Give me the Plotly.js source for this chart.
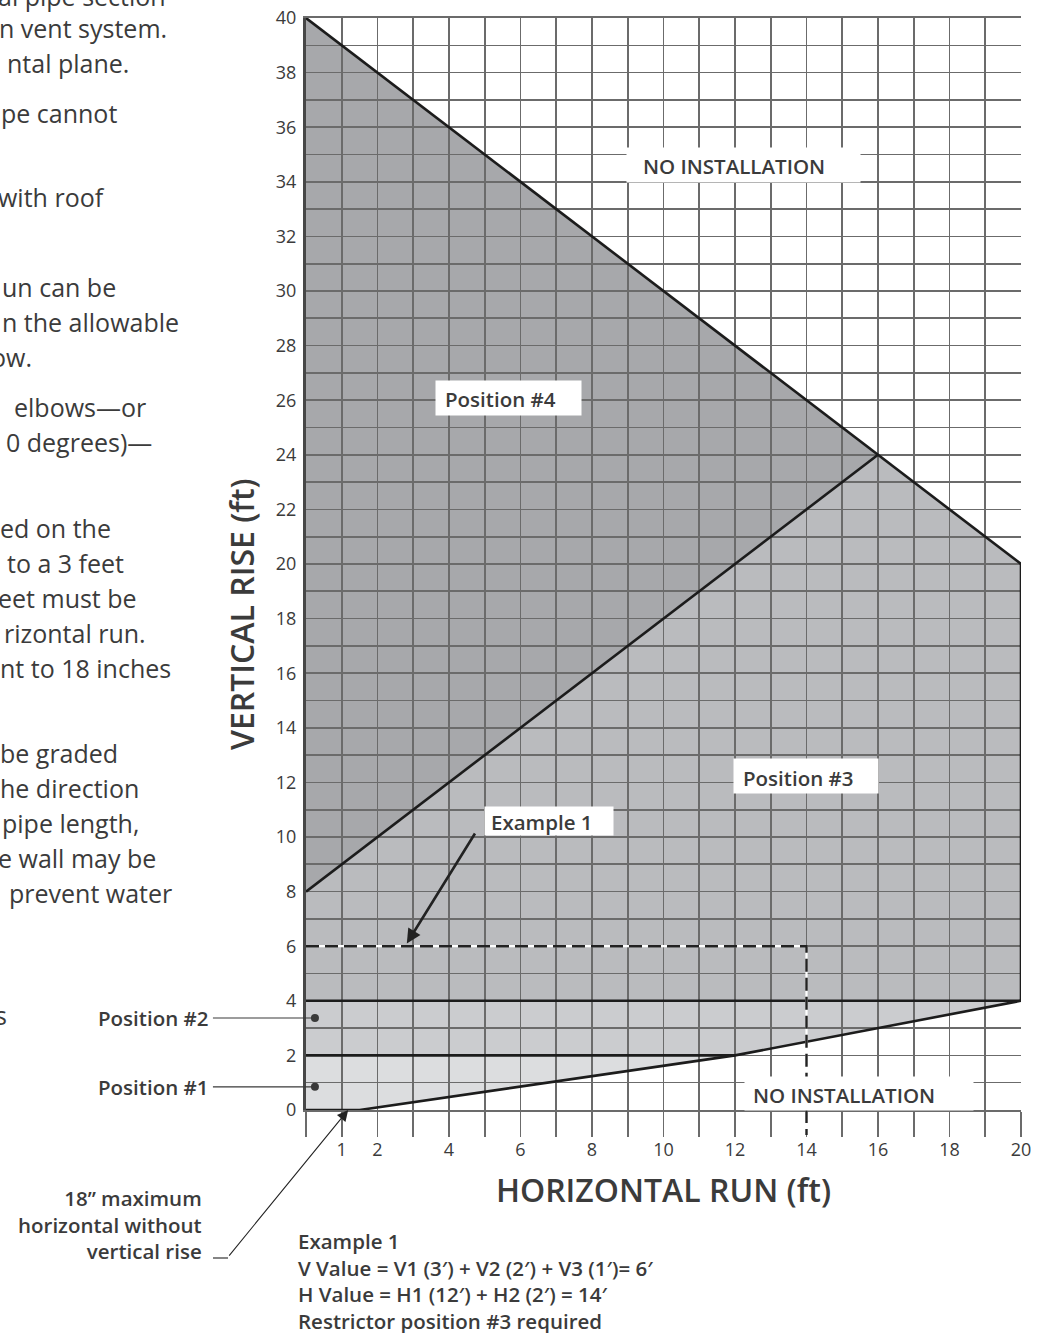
<!DOCTYPE html>
<html>
<head>
<meta charset="utf-8">
<script src="https://cdn.plot.ly/plotly-3.0.1.min.js"></script>
<style>
html,body{margin:0;padding:0;background:#fff;}
#chart{width:1037px;height:1333px;}
</style>
</head>
<body>
<div id="chart"></div>
<script>
// ---------- chart data ----------
const xTickVals = [1, 2, 4, 6, 8, 10, 12, 14, 16, 18, 20];
const xTickText = ['1', '2', '4', '6', '8', '10', '12', '14', '16', '18', '20'];
const yTickVals = [0, 2, 4, 6, 8, 10, 12, 14, 16, 18, 20, 22, 24, 26, 28, 30, 32, 34, 36, 38, 40];
const yTickText = ['0', '2', '4', '6', '8', '10', '12', '14', '16', '18', '20', '22', '24', '26', '28', '30', '32', '34', '36', '38', '40'];

// restrictor position regions (horizontal run ft, vertical rise ft)
const pos4X = [0, 16, 0];
const pos4Y = [40, 24, 8];
const pos3X = [0, 16, 20, 20, 0];
const pos3Y = [8, 24, 20, 4, 4];
const pos2X = [0, 12, 20, 0];
const pos2Y = [2, 2, 4, 4];
const pos1X = [0, 1.5, 12, 0];
const pos1Y = [0, 0, 2, 2];

// boundary lines
const upperLimitX = [0, 20];
const upperLimitY = [40, 20];
const pos4LimitX = [0, 16];
const pos4LimitY = [8, 24];
const rightLimitX = [20, 20];
const rightLimitY = [4, 20];
const pos3BaseX = [0, 20];
const pos3BaseY = [4, 4];
const pos2BaseX = [0, 12];
const pos2BaseY = [2, 2];
const lowerLimitX = [0, 1.5, 12, 20];
const lowerLimitY = [0, 0, 2, 4];

// Example 1 : V = 6 ft, H = 14 ft
const example1X = [0, 14, 14];
const example1Y = [6, 6, 0];
const example1H = 14;

// position markers
const markerX = [0.25, 0.25];
const markerY = [3.37, 0.85];
const markerLabels = ['Position #2', 'Position #1'];

// in-plot labels
const regionLabels = ['NO INSTALLATION', 'NO INSTALLATION', 'Position #4', 'Position #3', 'Example 1'];
const regionBoxX = [12.24, 15.47, 5.66, 13.99, 6.80];
const regionBoxY = [34.62, 0.60, 26.08, 12.23, 10.59];
const regionBoxW = [233, 228, 145, 144, 128];
const regionBoxH = [34, 33, 34, 34, 28];
const regionTextX = [9.38, 12.45, 3.82, 12.18, 5.11];
const regionTextY = [34.58, 0.56, 26.04, 12.17, 10.56];

const noteText = '18\u201D maximum<br>horizontal without<br>vertical rise';
const exampleText = 'Example 1<br>V Value = V1 (3\u2032) + V2 (2\u2032) + V3 (1\u2032)= 6\u2032<br>H Value = H1 (12\u2032) + H2 (2\u2032) = 14\u2032<br>Restrictor position #3 required';

// partial body text visible at the left edge (text, right edge px, centre y px)
const bodyLines = ['al pipe section', 'n vent system.', 'ntal plane.', 'pe cannot', 'with roof',
  'un can be', 'n the allowable', 'ow.', 'elbows\u2014or', '0 degrees)\u2014',
  'ed on the', 'to a 3 feet', 'eet must be', 'rizontal run.', 'nt to 18 inches',
  'be graded', 'he direction', 'pipe length,', 'e wall may be', 'prevent water', 's'];
const bodyRight = [167, 168, 130, 118, 106, 117, 180, 33, 147, 153, 112, 125, 138, 147, 172, 119, 140, 140, 157, 173, 8];
const bodyY = [-4, 28, 63, 113, 197, 287, 322, 357, 407, 442, 528, 563, 598, 633, 668, 753, 788, 823, 858, 893, 1015];

// ---------- layout geometry ----------
const W = 1037, H = 1333;
const M = {l: 306, r: 16, t: 18, b: 223};
const PW = W - M.l - M.r, PH = H - M.t - M.b;
const px2x = p => (p - M.l) / PW;
const py2y = p => (M.t + PH - p) / PH;

const FONT = '"Open Sans", "Noto Sans", sans-serif';
const TXT = '#3b3b3b';
const GRID = '#6b6b6b';
const EDGE = '#1c1c1c';

function polyPath(xs, ys) {
  return xs.map((x, i) => (i ? 'L' : 'M') + x + ',' + ys[i]).join(' ') + ' Z';
}
function fillShape(xs, ys, color) {
  return {type: 'path', xref: 'x', yref: 'y', layer: 'below', path: polyPath(xs, ys),
          fillcolor: color, line: {width: 0}};
}
function edge(xs, ys, name) {
  return {x: xs, y: ys, mode: 'lines', name: name, hoverinfo: 'skip',
          line: {color: EDGE, width: 2.6}};
}

const traces = [
  edge(upperLimitX, upperLimitY, 'upper limit'),
  edge(pos4LimitX, pos4LimitY, 'position 4 limit'),
  edge(rightLimitX, rightLimitY, 'right limit'),
  edge(pos3BaseX, pos3BaseY, 'position 3 base'),
  edge(pos2BaseX, pos2BaseY, 'position 2 base'),
  edge(lowerLimitX, lowerLimitY, 'lower limit'),
  {x: example1X, y: example1Y, mode: 'lines', hoverinfo: 'skip', line: {color: '#ffffff', width: 2.2}},
  {x: example1X, y: example1Y, mode: 'lines', hoverinfo: 'skip', line: {color: '#222222', width: 2.4, dash: '13px,6px'}},
  {x: markerX, y: markerY, mode: 'markers', hoverinfo: 'skip', marker: {color: '#3a3a3a', size: 8}}
];

const shapes = [
  fillShape(pos4X, pos4Y, '#a7a8ab'),
  fillShape(pos3X, pos3Y, '#babbbe'),
  fillShape(pos2X, pos2Y, '#cbcccf'),
  fillShape(pos1X, pos1Y, '#dcdddf'),
  // dashed Example 1 line continuing over the tick below the axis
  {type: 'line', xref: 'x', yref: 'paper', x0: example1H, x1: example1H, y0: 0, y1: -25 / PH,
   line: {color: '#ffffff', width: 2.2}, layer: 'above'},
  {type: 'line', xref: 'x', yref: 'paper', x0: example1H, x1: example1H, y0: 0, y1: -25 / PH,
   line: {color: '#222222', width: 2.4, dash: '13px,6px'}, layer: 'above'},
  // short lead-in of the 18" callout
  {type: 'line', xref: 'paper', yref: 'paper', x0: px2x(213), x1: px2x(228), y0: py2y(1258), y1: py2y(1258),
   line: {color: '#222222', width: 1.1}}
];

const labelFont = {family: FONT, size: 20.5, color: TXT, weight: 600};
const annotations = [];

regionLabels.forEach((t, i) => {
  annotations.push({xref: 'x', yref: 'y', x: regionBoxX[i], y: regionBoxY[i], text: ' ', showarrow: false,
    bgcolor: '#ffffff', width: regionBoxW[i], height: regionBoxH[i], borderpad: 0, font: {size: 4}});
  annotations.push({xref: 'x', yref: 'y', x: regionTextX[i], y: regionTextY[i], text: t, showarrow: false,
    xanchor: 'left', yanchor: 'middle', font: labelFont});
});

markerLabels.forEach((t, i) => {
  annotations.push({xref: 'x', yref: 'y', x: markerX[i], y: markerY[i], text: t, showarrow: true,
    arrowhead: 0, arrowwidth: 1.2, arrowcolor: '#3a3a3a', ax: -102, ay: 0, xanchor: 'right',
    borderpad: 4, standoff: 0, font: labelFont});
});

// Example 1 arrow
annotations.push({xref: 'x', yref: 'y', x: 2.82, y: 6.1, text: ' ', showarrow: true, arrowhead: 2,
  arrowsize: 1.1, arrowwidth: 2.6, arrowcolor: '#222222', ax: 70, ay: -113, font: {size: 2}});
// 18" arrow
annotations.push({xref: 'x', yref: 'y', x: 1.18, y: 0, text: ' ', showarrow: true, arrowhead: 2,
  arrowsize: 2, arrowwidth: 1.1, arrowcolor: '#222222', ax: -121, ay: 148, font: {size: 2}});
annotations.push({xref: 'paper', yref: 'paper', x: px2x(203), y: py2y(1224), text: noteText, showarrow: false,
  xanchor: 'right', yanchor: 'middle', align: 'right', borderpad: 0, font: labelFont});
annotations.push({xref: 'paper', yref: 'paper', x: px2x(297), y: py2y(1226), text: exampleText, showarrow: false,
  xanchor: 'left', yanchor: 'top', align: 'left', borderpad: 0, font: labelFont});

// vertical axis title (placed as in the reference, below centre)
annotations.push({xref: 'paper', yref: 'paper', x: px2x(241), y: py2y(614), text: 'VERTICAL RISE (ft)',
  showarrow: false, textangle: -90, xanchor: 'center', yanchor: 'middle',
  font: {family: FONT, size: 32, color: TXT, weight: 600}});

bodyLines.forEach((t, i) => {
  annotations.push({xref: 'paper', yref: 'paper', x: px2x(bodyRight[i]), y: py2y(bodyY[i]), text: t,
    showarrow: false, xanchor: 'right', yanchor: 'middle', borderpad: 0,
    font: {family: FONT, size: 25, color: TXT}});
});

const layout = {
  width: W, height: H,
  margin: M,
  paper_bgcolor: '#ffffff', plot_bgcolor: '#ffffff',
  showlegend: false,
  font: {family: FONT, color: TXT},
  xaxis: {
    range: [0, 20], fixedrange: true, automargin: false,
    tickmode: 'array', tickvals: xTickVals, ticktext: xTickText,
    ticks: 'outside', ticklen: 25, tickwidth: 1.6, tickcolor: GRID, ticklabelstandoff: -2,
    showgrid: true, gridcolor: GRID, gridwidth: 1.6,
    minor: {dtick: 1, tick0: 0, ticks: 'outside', ticklen: 25, tickwidth: 1.6, tickcolor: GRID,
            showgrid: true, gridcolor: GRID, gridwidth: 1.6},
    zeroline: false, showline: true, mirror: true, linecolor: GRID, linewidth: 1.6,
    tickfont: {family: FONT, size: 18, color: TXT},
    title: {text: 'HORIZONTAL RUN (ft)', standoff: 19, font: {family: FONT, size: 32, color: TXT, weight: 600}}
  },
  yaxis: {
    range: [0, 40], fixedrange: true, automargin: false,
    tickmode: 'array', tickvals: yTickVals, ticktext: yTickText,
    ticks: '', ticklabelstandoff: 3,
    showgrid: true, gridcolor: GRID, gridwidth: 1.6,
    minor: {dtick: 1, tick0: 0, showgrid: true, gridcolor: GRID, gridwidth: 1.6},
    zeroline: false, showline: true, linecolor: '#474747', linewidth: 3,
    tickfont: {family: FONT, size: 18, color: TXT}
  },
  shapes: shapes,
  annotations: annotations
};

Plotly.newPlot('chart', traces, layout, {staticPlot: true, displayModeBar: false});
</script>
</body>
</html>
